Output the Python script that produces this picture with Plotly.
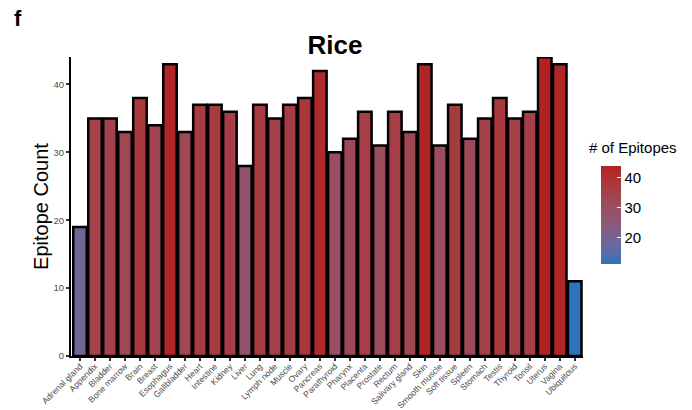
import numpy as np
import plotly.graph_objects as go

tissues = [
    "Adrenal gland", "Appendix", "Bladder", "Bone marrow", "Brain", "Breast",
    "Esophagus", "Gallbladder", "Heart", "Intestine", "Kidney", "Liver", "Lung",
    "Lymph node", "Muscle", "Ovary", "Pancreas", "Parathyroid", "Pharynx",
    "Placenta", "Prostate", "Rectum", "Salivary gland", "Skin", "Smooth muscle",
    "Soft tissue", "Spleen", "Stomach", "Testis", "Thyroid", "Tonsil", "Uterus",
    "Vagina", "Ubiquitous",
]
epitope_counts = [
    19, 35, 35, 33, 38, 34,
    43, 33, 37, 37, 36, 28, 37,
    35, 37, 38, 42, 30, 32,
    36, 31, 36, 33, 43, 31,
    37, 32, 35, 38, 35, 36, 44,
    43, 11,
]
colorbar_ticks = [20, 30, 40]

LOW, HIGH = "#2C74BC", "#B22222"


# --- gradient interpolated in CIELAB, like ggplot's scale_fill_gradient ---
def _hex_to_rgb(h):
    h = h.lstrip("#")
    return np.array([int(h[i:i + 2], 16) for i in (0, 2, 4)], float) / 255


def _lin(c):
    return np.where(c <= 0.04045, c / 12.92, ((c + 0.055) / 1.055) ** 2.4)


def _gam(c):
    c = np.clip(c, 0, 1)
    return np.where(c <= 0.0031308, 12.92 * c, 1.055 * c ** (1 / 2.4) - 0.055)


M = np.array([[0.4124, 0.3576, 0.1805],
              [0.2126, 0.7152, 0.0722],
              [0.0193, 0.1192, 0.9505]])
WHITE = np.array([0.95047, 1.0, 1.08883])


def _f(t):
    d = 6 / 29
    return np.where(t > d ** 3, np.cbrt(t), t / (3 * d * d) + 4 / 29)


def _finv(t):
    d = 6 / 29
    return np.where(t > d, t ** 3, 3 * d * d * (t - 4 / 29))


def to_lab(h):
    xyz = M @ _lin(_hex_to_rgb(h)) / WHITE
    fx, fy, fz = _f(xyz)
    return np.array([116 * fy - 16, 500 * (fx - fy), 200 * (fy - fz)])


def from_lab(lab):
    L, a, b = lab
    fy = (L + 16) / 116
    xyz = np.array([_finv(fy + a / 500), _finv(fy), _finv(fy - b / 200)]) * WHITE
    rgb = _gam(np.linalg.solve(M, xyz))
    return "rgb({:.0f},{:.0f},{:.0f})".format(*(rgb * 255))


lab_lo, lab_hi = to_lab(LOW), to_lab(HIGH)
colorscale = [[t, from_lab(lab_lo + (lab_hi - lab_lo) * t)] for t in np.linspace(0, 1, 11)]

FONT = "Liberation Sans, Arial, Helvetica, sans-serif"

fig = go.Figure(
    go.Bar(
        x=tissues,
        y=epitope_counts,
        marker=dict(
            color=epitope_counts,
            colorscale=colorscale,
            cmin=min(epitope_counts),
            cmax=max(epitope_counts),
            line=dict(color="black", width=2.5),
            colorbar=dict(
                x=1.035, xanchor="left", xpad=0,
                y=0.4716, yanchor="middle", ypad=0,
                len=98 / 299, lenmode="fraction",
                thickness=20, outlinewidth=0,
                tickvals=colorbar_ticks,
                ticks="inside", ticklen=4, tickcolor="white", tickwidth=1,
                tickfont=dict(family=FONT, size=15, color="black"),
            ),
        ),
        hoverinfo="x+y",
    )
)

fig.update_layout(
    width=692, height=410,
    margin=dict(l=71, r=109, t=57, b=54, autoexpand=False),
    paper_bgcolor="white", plot_bgcolor="white",
    bargap=0.1,
    showlegend=False,
    title=dict(text="<b>Rice</b>", x=335 / 692, xanchor="center",
               y=1 - 45 / 410, yanchor="middle",
               font=dict(family=FONT, size=26, color="black")),
    font=dict(family=FONT),
)

fig.update_xaxes(
    range=[-0.6, 33.55], showgrid=False, zeroline=False, automargin=False,
    showline=True, linecolor="black", linewidth=2,
    ticks="outside", ticklen=3, tickwidth=1.5, tickcolor="#333333",
    tickangle=-45, ticklabelstandoff=-3,
    tickfont=dict(family=FONT, size=8.6, color="#4D4D4D"),
)
fig.update_yaxes(
    range=[0, 44.05], showgrid=False, zeroline=False, automargin=False,
    showline=True, linecolor="black", linewidth=2,
    ticks="outside", ticklen=3, tickwidth=1.5, tickcolor="#333333",
    tickvals=[0, 10, 20, 30, 40],
    tickfont=dict(family=FONT, size=9.5, color="#4D4D4D"),
    title=dict(text="Epitope Count", standoff=0,
               font=dict(family=FONT, size=20, color="black")),
)

fig.add_annotation(
    text="<b>f</b>", xref="paper", yref="paper",
    x=-71 / 512 + 12 / 512, y=1 + (57 - 18) / 299,
    xanchor="left", yanchor="middle", showarrow=False,
    font=dict(family=FONT, size=22, color="black"),
)
fig.add_annotation(
    text="# of Epitopes", xref="paper", yref="paper",
    x=(587 - 71) / 512, y=(356 - 147) / 299,
    xanchor="left", yanchor="middle", showarrow=False,
    font=dict(family=FONT, size=15, color="black"),
)

fig.write_html("out.html")
